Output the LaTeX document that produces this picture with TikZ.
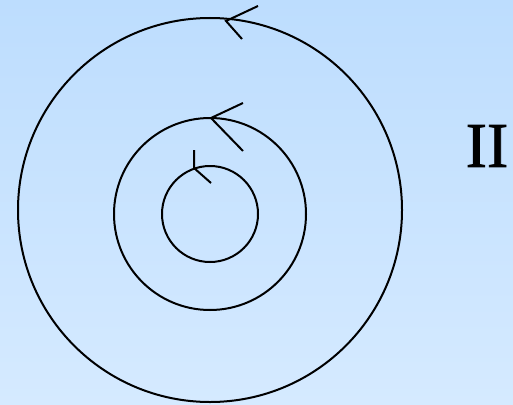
\documentclass[tikz,border=0pt]{standalone}
\usepackage{fontspec}
\setmainfont{Liberation Serif}
\newfontfamily\heavyserif[FakeBold=1.2]{Liberation Serif}
\definecolor{bgtop}{RGB}{189,221,254}
\definecolor{bgbot}{RGB}{213,234,255}
\begin{document}
\begin{tikzpicture}[x=1pt,y=-1pt,
  ring/.style={draw=black,line width=2pt},
  chev/.style={draw=black,line width=2pt}]
\useasboundingbox (0,0) rectangle (513,404);
\shade[top color=bgtop,bottom color=bgbot] (0,0) rectangle (513,404);
\coordinate (c) at (210,210);
\coordinate (c2) at (210,214);
\draw[ring] (c) circle[radius=192];
\draw[ring] (c2) circle[radius=96];
\draw[ring] (c2) circle[radius=48];
% outer chevron
\coordinate (o) at (226,21);
\coordinate (o1) at (258,6);
\coordinate (o2) at (242,39);
\draw[chev] (o1) -- (o) -- (o2);
% middle chevron
\coordinate (m) at (211,118);
\coordinate (m1) at (243,103);
\coordinate (m2) at (243,151);
\draw[chev] (m1) -- (m) -- (m2);
% inner chevron
\coordinate (i) at (194,168);
\coordinate (i1) at (194,150);
\coordinate (i2) at (211,183);
\draw[chev] (i1) -- (i) -- (i2);
\node[font=\heavyserif\fontsize{64}{64}\selectfont,inner sep=0pt] (lab) at (487,146) {II};
\end{tikzpicture}
\end{document}
